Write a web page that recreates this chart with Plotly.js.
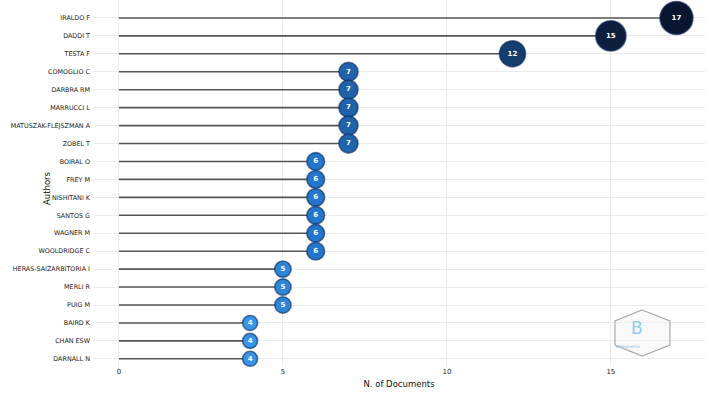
<!DOCTYPE html>
<html>
<head>
<meta charset="utf-8">
<script src="https://cdn.plot.ly/plotly-3.0.1.min.js"></script>
<style>html,body{margin:0;padding:0;background:#fff;}#chart{width:709px;height:396px;}</style>
</head>
<body>
<div id="chart"></div>
<script>
const authors = ["IRALDO F","DADDI T","TESTA F","COMOGLIO C","DARBRA RM","MARRUCCI L","MATUSZAK-FLEJSZMAN A","ZOBEL T","BOIRAL O","FREY M","NISHITANI K","SANTOS G","WAGNER M","WOOLDRIDGE C","HERAS-SAIZARBITORIA I","MERLI R","PUIG M","BAIRD K","CHAN ESW","DARNALL N"];
const documents = [17,15,12,7,7,7,7,7,6,6,6,6,6,6,5,5,5,4,4,4];
const xTicks = [0,5,10,15];

// stems from 0 to value
const stemX = [], stemY = [];
authors.forEach((a,i)=>{ stemX.push(0, documents[i], null); stemY.push(a, a, null); });

const minV = Math.min(...documents), maxV = Math.max(...documents);
const sizes = documents.map(v => 15 + (v - minV) * (18 / (maxV - minV)));

const stems = {
  type:'scatter', mode:'lines', x: stemX, y: stemY,
  line:{color:'#555555', width:1.6}, hoverinfo:'skip', showlegend:false, cliponaxis:false
};
const dots = {
  type:'scatter', mode:'markers+text', x: documents, y: authors,
  text: documents.map(String), textposition:'middle center',
  textfont:{family:'DejaVu Sans', size:7, color:'#ffffff', weight:'bold'},
  marker:{size:sizes, color:documents, cmin:minV, cmax:maxV,
    colorscale:[[0,'#3a95e8'],[0.077,'#2f86d8'],[0.154,'#2476cc'],[0.23,'#2163aa'],[0.615,'#143e6b'],[0.846,'#0d1f3c'],[1,'#0a1530']],
    line:{color:'rgba(10,40,90,0.6)', width:1.6}, opacity:1},
  showlegend:false, cliponaxis:false
};

function px(x){return (x-93)/612;}
function py(y){return 1 - y/366;}
const hex = [[642,310],[670,321],[670,345],[642,356],[615,345],[615,321]];
const hexPath = 'M ' + hex.map(p=>px(p[0]).toFixed(4)+','+py(p[1]).toFixed(4)).join(' L ') + ' Z';

const layout = {
  width:709, height:396,
  margin:{l:93, r:4, t:0, b:30},
  paper_bgcolor:'#ffffff', plot_bgcolor:'#ffffff',
  font:{family:'DejaVu Sans', color:'#333333'},
  xaxis:{range:[-0.79,17.87], tickvals:xTicks, ticktext:xTicks.map(String),
    showgrid:true, gridcolor:'#ebebeb', gridwidth:1, zeroline:false, showline:false,
    ticks:'', tickfont:{size:7, color:'#222'},
    title:{text:'N. of Documents', font:{size:8.5, color:'#111'}, standoff:6}},
  yaxis:{type:'category', categoryorder:'array', categoryarray:authors, range:[19.4,-1.0],
    showgrid:true, gridcolor:'#ebebeb', gridwidth:1, zeroline:false, showline:false,
    ticks:'', ticklabelstandoff:2, tickfont:{size:6.4, color:'#1a1a1a', family:'DejaVu Sans'}},
  shapes:[{type:'path', xref:'paper', yref:'paper', path:hexPath, line:{color:'#aaaaaa', width:1.2}, fillcolor:'rgba(245,245,245,0.6)', layer:'above'}],
  annotations:[
    {xref:'paper', yref:'paper', x:px(40), y:py(188), text:'Authors', textangle:-90, showarrow:false, font:{size:8.5, color:'#111'}},
    {xref:'paper', yref:'paper', x:px(645), y:py(328), yanchor:'middle', text:'B', showarrow:false, font:{size:17, color:'#8ecbef', family:'DejaVu Sans'}},
    {xref:'paper', yref:'paper', x:px(643), y:py(346), yanchor:'middle', text:'bibliometrix', showarrow:false, font:{size:4, color:'#7fbfe6'}}
  ]
};
Plotly.newPlot('chart',[stems, dots], layout, {displayModeBar:false, staticPlot:true});
</script>
</body>
</html>
